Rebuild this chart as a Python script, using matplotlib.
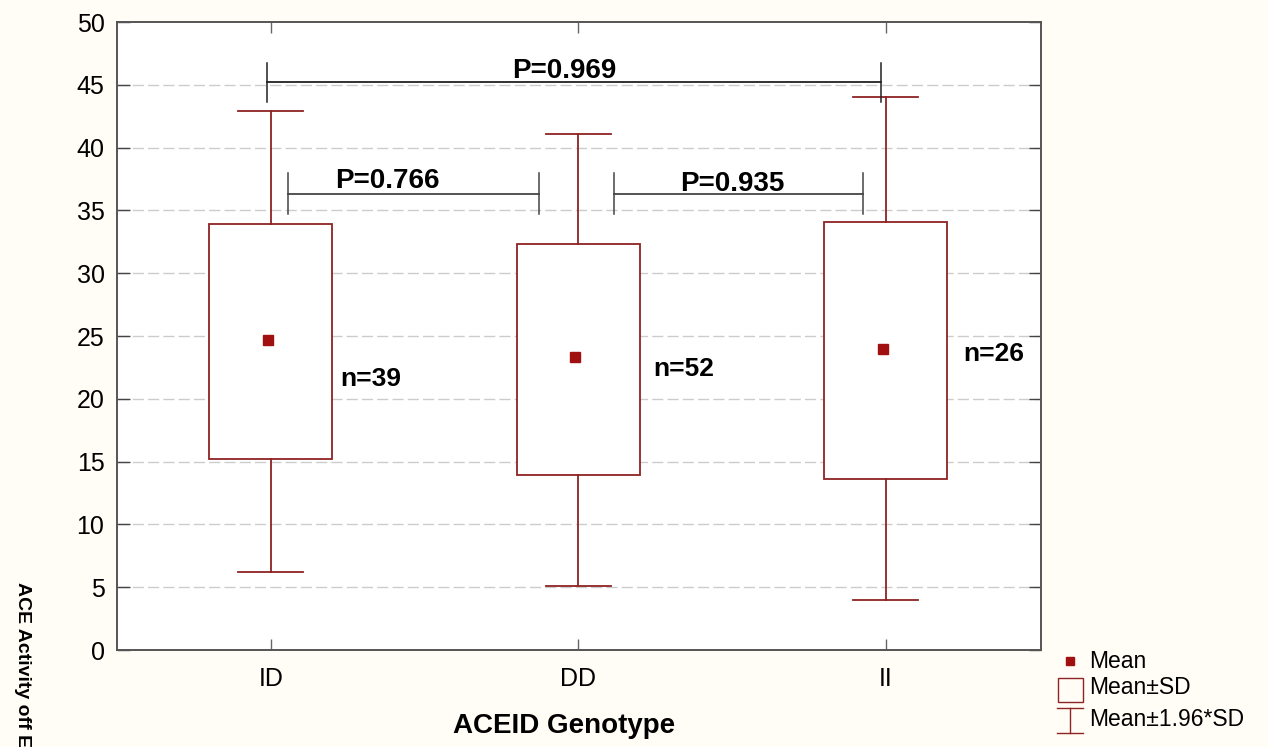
import matplotlib
matplotlib.use("Agg")
import matplotlib.pyplot as plt
from matplotlib.patches import Rectangle
from matplotlib.lines import Line2D

plt.rcParams['font.family'] = ['Liberation Sans', 'DejaVu Sans']

# ---- data ----
categories = ["ID", "DD", "II"]
means = [24.7, 23.3, 24.0]
sd_low = [15.2, 13.9, 13.6]
sd_high = [33.9, 32.3, 34.1]
ci_low = [6.2, 5.1, 4.0]
ci_high = [42.9, 41.1, 44.0]
n_labels = ["n=39", "n=52", "n=26"]
n_pos_y = [21.0, 21.8, 23.0]
p_labels = ["P=0.766", "P=0.935", "P=0.969"]
p_pairs = [(0, 1), (1, 2), (0, 2)]
p_heights = [36.3, 36.3, 45.2]
yticks = [0, 5, 10, 15, 20, 25, 30, 35, 40, 45, 50]

RED = "#8e2323"
MEANC = "#a01010"
BG = "#fffdf5"

fig = plt.figure(figsize=(12.68, 7.47), dpi=100, facecolor=BG)
ax = fig.add_axes([117/1268, 1-650/747, (1041-117)/1268, (650-22)/747])
ax.set_facecolor("white")

xs = [1, 2, 3]
box_w = 0.40
cap_w = 0.21

for x, m, lo, hi, clo, chi in zip(xs, means, sd_low, sd_high, ci_low, ci_high):
    ax.add_patch(Rectangle((x - box_w/2, lo), box_w, hi - lo, facecolor="white",
                           edgecolor=RED, lw=1.3, zorder=3))
    ax.plot([x, x], [hi, chi], color=RED, lw=1.3, zorder=3)
    ax.plot([x, x], [clo, lo], color=RED, lw=1.3, zorder=3)
    ax.plot([x - cap_w/2, x + cap_w/2], [chi, chi], color=RED, lw=1.3, zorder=3)
    ax.plot([x - cap_w/2, x + cap_w/2], [clo, clo], color=RED, lw=1.3, zorder=3)
    ax.plot([x - 0.01], [m], marker="s", ms=6.5, color=MEANC, mec=MEANC, zorder=4)

n_dx = [0.226, 0.245, 0.253]
for x, lab, ny, dx in zip(xs, n_labels, n_pos_y, n_dx):
    ax.text(x + dx, ny, lab, fontsize=19, fontweight="bold",
            ha="left", va="baseline", zorder=5)

# significance brackets
br_x = {(0, 1): (1.057, 1.871), (1, 2): (2.115, 2.927), (0, 2): (0.988, 2.986)}
tick_rng = {(0, 1): (34.7, 38.0), (1, 2): (34.7, 38.0), (0, 2): (43.6, 46.7)}
txt_x = {(0, 1): 1.379, (1, 2): 2.501, (0, 2): 1.955}
txt_y = {(0, 1): 36.75, (1, 2): 36.55, (0, 2): 45.55}
for pair, lab, h in zip(p_pairs, p_labels, p_heights):
    x0, x1 = br_x[pair]
    t0, t1 = tick_rng[pair]
    c = "#222222" if pair == (0, 2) else "#444444"
    ax.plot([x0, x1], [h, h], color=c, lw=1.3, zorder=5)
    ax.plot([x0, x0], [t0, t1], color=c, lw=1.1, zorder=5)
    ax.plot([x1, x1], [t0, t1], color=c, lw=1.1, zorder=5)
    ax.text(txt_x[pair], txt_y[pair], lab, fontsize=20, fontweight="bold",
            ha="center", va="baseline", zorder=6)

ax.set_xlim(0.5, 3.505)
ax.set_ylim(0, 50)
ax.set_yticks(yticks)
ax.set_yticklabels([str(v) for v in yticks], fontsize=18)
ax.set_xticks(xs)
ax.set_xticklabels(categories, fontsize=18)
ax.tick_params(axis="y", direction="in", length=9, width=1, color="#444444",
               right=True, pad=9)
ax.tick_params(axis="x", direction="in", length=8, width=1, color="#666666",
               top=True, pad=12)
for s in ax.spines.values():
    s.set_color("#555555")
    s.set_linewidth(1.4)

for v in yticks[1:-1]:
    ax.axhline(v, color="#cccccc", lw=1.0, ls=(0, (8, 3)), zorder=1)

def fx(px):
    return px / 1268
def fy(py):
    return 1 - py / 747

fig.text(fx(564), fy(733), "ACEID Genotype", fontsize=20, fontweight="bold",
         ha="center", va="baseline")
fig.text(fx(22), fy(582), "ACE Activity off E", rotation=270, fontsize=14,
         fontweight="bold", ha="center", va="top")

# legend (manual)
fig.add_artist(Line2D([fx(1070)], [fy(661)], marker="s", ms=6, color=MEANC,
                      transform=fig.transFigure))
fig.text(fx(1089), fy(661), "Mean", fontsize=16.5, va="center", ha="left")
fig.add_artist(Rectangle((fx(1058), fy(702)), fx(25), (24)/747, facecolor="none",
                         edgecolor=RED, lw=1.0, transform=fig.transFigure))
fig.text(fx(1089), fy(688), "Mean±SD", fontsize=16.5, va="center", ha="left")
fig.add_artist(Line2D([fx(1057), fx(1083)], [fy(708), fy(708)], color=RED, lw=1.0,
                      transform=fig.transFigure))
fig.add_artist(Line2D([fx(1070), fx(1070)], [fy(708), fy(733)], color=RED, lw=1.0,
                      transform=fig.transFigure))
fig.add_artist(Line2D([fx(1057), fx(1083)], [fy(733), fy(733)], color=RED, lw=1.0,
                      transform=fig.transFigure))
fig.text(fx(1089), fy(719), "Mean±1.96*SD", fontsize=16.5, va="center", ha="left")

fig.savefig("out.png", dpi=100, facecolor=BG)
